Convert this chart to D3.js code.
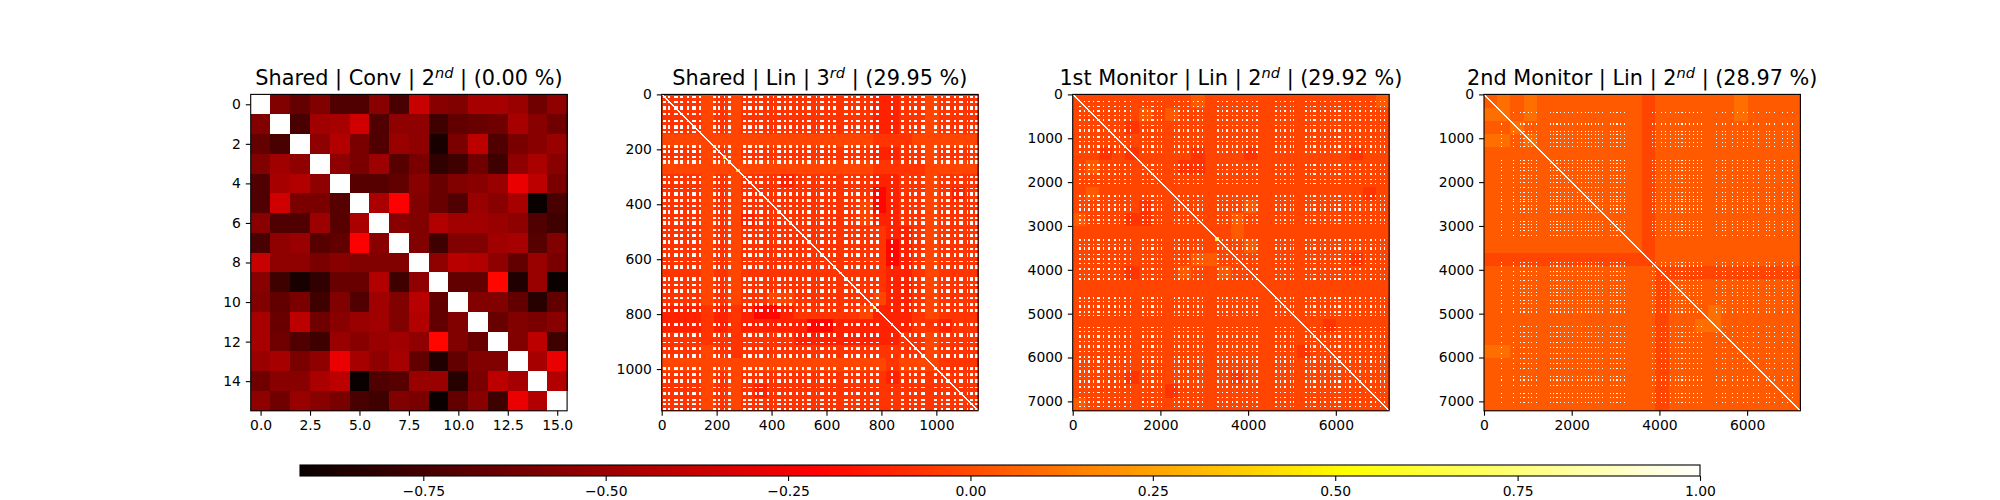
<!DOCTYPE html>
<html><head><meta charset="utf-8">
<script src="https://cdn.jsdelivr.net/npm/d3@7/dist/d3.min.js"></script>
<style>html,body{margin:0;padding:0;background:#fff}svg{display:block}text{font-family:"DejaVu Sans";fill:#000}</style>
</head><body><svg id="c" width="2000" height="500"></svg>
<script>
// ---------- data ----------
const vMin = -0.919, vMax = 1;
const colorbarTicks = [-0.75,-0.5,-0.25,0,0.25,0.5,0.75,1];
const sharedConv = [
[1,-.58,-.66,-.58,-.72,-.72,-.56,-.74,-.38,-.56,-.58,-.47,-.47,-.51,-.63,-.54],
[-.58,1,-.74,-.49,-.47,-.35,-.72,-.54,-.54,-.77,-.67,-.65,-.63,-.47,-.56,-.63],
[-.66,-.74,1,-.54,-.44,-.60,-.72,-.51,-.54,-.88,-.60,-.41,-.72,-.60,-.56,-.51],
[-.58,-.49,-.54,1,-.54,-.60,-.50,-.70,-.60,-.81,-.77,-.63,-.77,-.54,-.46,-.56],
[-.72,-.47,-.44,-.54,1,-.70,-.70,-.67,-.56,-.65,-.58,-.56,-.51,-.28,-.41,-.60],
[-.72,-.35,-.60,-.60,-.70,1,-.46,-.22,-.58,-.65,-.72,-.51,-.56,-.47,-.92,-.74],
[-.56,-.72,-.72,-.50,-.70,-.46,1,-.56,-.58,-.44,-.49,-.49,-.51,-.54,-.72,-.77],
[-.74,-.54,-.51,-.70,-.67,-.22,-.56,1,-.58,-.77,-.58,-.58,-.49,-.47,-.70,-.58],
[-.38,-.54,-.54,-.60,-.56,-.58,-.58,-.58,1,-.54,-.42,-.44,-.54,-.67,-.51,-.60],
[-.56,-.77,-.88,-.81,-.65,-.65,-.44,-.77,-.54,1,-.67,-.67,-.20,-.86,-.51,-.92],
[-.58,-.67,-.60,-.77,-.58,-.72,-.49,-.58,-.42,-.67,1,-.58,-.58,-.67,-.84,-.67],
[-.47,-.65,-.41,-.63,-.56,-.51,-.49,-.58,-.44,-.67,-.58,1,-.65,-.58,-.60,-.56],
[-.47,-.63,-.72,-.77,-.51,-.56,-.51,-.49,-.54,-.20,-.58,-.65,1,-.58,-.41,-.77],
[-.51,-.47,-.60,-.54,-.28,-.47,-.54,-.47,-.67,-.86,-.67,-.58,-.58,1,-.47,-.28],
[-.63,-.56,-.56,-.46,-.41,-.92,-.72,-.70,-.51,-.51,-.84,-.60,-.41,-.47,1,-.44],
[-.54,-.63,-.51,-.56,-.60,-.74,-.77,-.58,-.60,-.92,-.67,-.56,-.77,-.28,-.44,1]];

// regional tone of the three large matrices: a coarse estimate of the upper triangle.
// The per-cell speckle of the original cannot be read from the picture and is not reproduced.
const levelValues = [-.5,-.32,-.2,-.12,-.07,-.02,.04,.1,.17,.27];
const sharedLinLevels = [
"444545444444444433445444",
" 44545444444444433445444",
"  4545444444444433445444",
"   555555555555544455555",
"    45444444444433445444",
"     5555555555544445555",
"      444344444433445444",
"       44444444423445434",
"        4444444523445444",
"         444444533445444",
"          44444443345444",
"           4444442345444",
"            444442345444",
"             44443345444",
"              4443345444",
"               453345444",
"                33345444",
"                 3344344",
"                  445444",
"                   45444",
"                    5444",
"                     444",
"                      44",
"                       4"];
const monitor1Levels = [
"555555555655555555555556",
" 55556565555555555555555",
"  5545555555555555555555",
"   555555555555555555555",
"    45555455545555555455",
"     5554455555555555555",
"      555555555555555555",
"       55555555555555545",
"        5555565555555555",
"         555655555555555",
"          55655555555555",
"           5565555555555",
"            555555555455",
"             55555555555",
"              5555555555",
"               555555555",
"                55555555",
"                 5545555",
"                  555555",
"                   55555",
"                    5555",
"                     555",
"                      55",
"                       5"];
const monitor2Levels = [
"676766666666566666676666",
" 76766666666566666676666",
"  7666666666566666666666",
"   766666666566666666666",
"    66666666566666666666",
"     6666666566666666666",
"      666666566666666666",
"       66666566666666666",
"        6666566666666666",
"         666566666666666",
"          66566666666666",
"           6566666666666",
"            566666666666",
"             55555555555",
"              6666666666",
"               666666666",
"                67666666",
"                 7666666",
"                  666666",
"                   66666",
"                    6666",
"                     666",
"                      66",
"                       6"];
// index ranges of the white lattice
const sharedLinStripes = [[6,14],[24,32],[44,58],[66,76],[92,100],[112,126],[134,142],[186,196],[204,214],[226,232],[240,252],[296,306],[316,328],[340,346],[356,370],[382,392],[404,410],[420,434],[446,452],[462,474],[490,498],[510,518],[530,544],[560,566],[578,592],[606,612],[622,636],[664,678],[690,698],[708,722],[738,744],[758,770],[782,792],[834,842],[870,884],[900,906],[918,930],[944,958],[992,1004],[1016,1024],[1036,1050],[1064,1070],[1082,1096],[1110,1116],[1124,1132],[1140,1150]];
const monitor1Stripes = [[150,180],[260,285],[360,405],[470,495],[560,615],[700,725],[800,855],[940,985],[1060,1085],[1160,1215],[1300,1325],[1590,1630],[1700,1725],[1790,1845],[1930,1955],[2020,2045],[2300,2335],[2400,2440],[2510,2535],[2600,2655],[2740,2765],[2830,2880],[2940,2960],[3300,3335],[3400,3425],[3490,3545],[3630,3655],[3720,3770],[3850,3875],[3950,4005],[4090,4115],[4180,4235],[4620,4655],[4720,4745],[4810,4865],[4950,4985],[5030,5055],[5300,5335],[5400,5425],[5490,5545],[5630,5655],[5720,5775],[5860,5885],[5960,6000],[6060,6115],[6200,6225],[6290,6345],[6430,6455],[6520,6575],[6660,6685],[6780,6820],[6900,6925],[7000,7035],[7100,7125]];
const monitor2Stripes = [[390,420],[660,690],[830,855],[900,925],[1000,1025],[1080,1105],[1175,1200],[1500,1530],[1570,1595],[1650,1680],[1730,1755],[1830,1855],[1910,1935],[2000,2030],[2120,2145],[2220,2245],[2310,2335],[2380,2405],[2440,2465],[2520,2550],[2600,2630],[2680,2705],[2880,2905],[2950,2975],[3020,3045],[3100,3125],[3200,3225],[3820,3845],[3900,3930],[4030,4055],[4120,4145],[4240,4265],[4350,4375],[4420,4445],[4500,4530],[4580,4605],[4680,4705],[4760,4785],[4860,4885],[4950,4975],[5290,5315],[5420,5445],[5500,5525],[5650,5675],[5760,5785],[5900,5925],[6000,6025],[6130,6155],[6240,6265],[6420,6445],[6500,6525],[6620,6645],[6800,6825],[6900,6925],[7020,7045]];
// bright yellow patches on the diagonal: [centre, half size, value]
const sharedLinHot = [[228,6,.45],[278,6,.4],[650,5,.45],[775,5,.4]];
const monitor1Hot = [[3300,45,.5]];
const monitor2Hot = [];

const panels = [
 {title:["Shared | Conv | 2","nd"," | (0.00 %)"], left:250.7, n:16, matrix:sharedConv},
 {title:["Shared | Lin | 3","rd"," | (29.95 %)"], left:661.7, n:1152, xTicks:[0,200,400,600,800,1000], yTicks:[0,200,400,600,800,1000], levels:sharedLinLevels, stripes:sharedLinStripes, hot:sharedLinHot},
 {title:["1st Monitor | Lin | 2","nd"," | (29.92 %)"], left:1072.7, n:7215, xTicks:[0,2000,4000,6000], yTicks:[0,1000,2000,3000,4000,5000,6000,7000], levels:monitor1Levels, stripes:monitor1Stripes, hot:monitor1Hot},
 {title:["2nd Monitor | Lin | 2","nd"," | (28.97 %)"], left:1484, n:7215, xTicks:[0,2000,4000,6000], yTicks:[0,1000,2000,3000,4000,5000,6000,7000], levels:monitor2Levels, stripes:monitor2Stripes, hot:monitor2Hot}
];

// ---------- drawing ----------
const span = vMax - vMin;
const color = d3.scaleLinear()
  .domain([vMin, vMin+.365*span, vMin+.746*span, vMax])
  .range(["#0b0000","#ff0000","#ffff00","#ffffff"]).clamp(true);
const svg = d3.select("#c");
const side = 316.4, axTop = 94.4;
const fmtMinus = s => String(s).replace("-", "\u2212");

function styleAxis(g){
  g.select(".domain").remove();
  g.selectAll(".tick line").attr("stroke","#000").attr("stroke-width",1.1);
  g.selectAll(".tick text").attr("font-size",13.9).attr("font-family","DejaVu Sans").attr("fill","#000");
}

panels.forEach(p => {
  const g = svg.append("g").attr("shape-rendering","crispEdges");
  let x, y;
  if (p.matrix) {
    x = d3.scaleLinear().domain([-.5,15.5]).range([p.left,p.left+side]);
    y = d3.scaleLinear().domain([-.5,15.5]).range([axTop,axTop+side]);
    p.matrix.forEach((row,i)=>row.forEach((v,j)=>{
      g.append("rect").attr("x",x(j-.5)).attr("y",y(i-.5))
       .attr("width",x(j+.5)-x(j-.5)+.4).attr("height",y(i+.5)-y(i-.5)+.4).attr("fill",color(v));
    }));
  } else {
    x = d3.scaleLinear().domain([0,p.n]).range([p.left,p.left+side]);
    y = d3.scaleLinear().domain([0,p.n]).range([axTop,axTop+side]);
    const m = p.levels.length, step = p.n/m;
    for (let i=0;i<m;i++) for (let j=0;j<m;j++){
      const a=Math.min(i,j), b=Math.max(i,j);
      const d = levelValues[+p.levels[a][b]];
      g.append("rect").attr("x",x(j*step)).attr("y",y(i*step))
       .attr("width",x(step)-x(0)+.5).attr("height",y(step)-y(0)+.5).attr("fill",color(d===undefined?levelValues[4]:d));
    }
    p.stripes.forEach(r=>p.stripes.forEach(c=>{
      g.append("rect").attr("x",x(c[0])).attr("y",y(r[0]))
       .attr("width",Math.max(x(c[1])-x(c[0]),1)).attr("height",Math.max(y(r[1])-y(r[0]),1)).attr("fill","#fff");
    }));
    p.hot.forEach(h=>{
      g.append("rect").attr("x",x(h[0]-h[1])).attr("y",y(h[0]-h[1]))
       .attr("width",x(2*h[1])-x(0)).attr("height",y(2*h[1])-y(0)).attr("fill",color(h[2]));
    });
    // unit diagonal
    const dStep = p.n/side;
    d3.range(0,p.n,dStep).forEach(k=>{
      g.append("rect").attr("x",x(k)).attr("y",y(k)).attr("width",1.2).attr("height",1.2).attr("fill",color(1));
    });
  }
  const xAxis = p.matrix
    ? d3.axisBottom(x).tickValues([0,2.5,5,7.5,10,12.5,15]).tickFormat(d3.format(".1f"))
    : d3.axisBottom(x).tickValues(p.xTicks).tickFormat(d3.format("d"));
  const yAxis = p.matrix
    ? d3.axisLeft(y).tickValues([0,2,4,6,8,10,12,14]).tickFormat(d3.format("d"))
    : d3.axisLeft(y).tickValues(p.yTicks).tickFormat(d3.format("d"));
  xAxis.tickSizeInner(4.9).tickSizeOuter(0).tickPadding(4.9);
  yAxis.tickSizeInner(4.9).tickSizeOuter(0).tickPadding(4.9);
  svg.append("g").attr("transform",`translate(0,${axTop+side})`).call(xAxis).call(styleAxis);
  svg.append("g").attr("transform",`translate(${p.left},0)`).call(yAxis).call(styleAxis);
  svg.append("rect").attr("x",p.left).attr("y",axTop).attr("width",side).attr("height",side)
    .attr("fill","none").attr("stroke","#000").attr("stroke-width",1.1);
  const t = svg.append("text").attr("x",p.left+side/2).attr("y",85).attr("text-anchor","middle").attr("font-size",20.8);
  t.append("tspan").text(p.title[0]);
  t.append("tspan").text(p.title[1]).attr("dy",-7.5).attr("font-size",14.6).attr("font-style","italic");
  t.append("tspan").text(p.title[2]).attr("dy",7.5);
});

// colorbar
const cx = d3.scaleLinear().domain([vMin,vMax]).range([300,1700]);
const cTop = 465, cH = 11;
const cg = svg.append("g").attr("shape-rendering","crispEdges");
const cbSteps = d3.range(0,256).map(i=>vMin+span*i/256);
cg.selectAll("rect").data(cbSteps).join("rect")
  .attr("x",d=>cx(d)).attr("y",cTop).attr("width",cx(vMin+span/256)-cx(vMin)+.6).attr("height",cH).attr("fill",d=>color(d));
svg.append("rect").attr("x",300).attr("y",cTop).attr("width",1400).attr("height",cH).attr("fill","none").attr("stroke","#000").attr("stroke-width",1.1);
const cAxis = d3.axisBottom(cx).tickValues(colorbarTicks).tickFormat(d=>fmtMinus(d3.format(".2f")(d))).tickSizeInner(4.9).tickSizeOuter(0).tickPadding(4.9);
svg.append("g").attr("transform",`translate(0,${cTop+cH})`).call(cAxis).call(styleAxis);
</script></body></html>
